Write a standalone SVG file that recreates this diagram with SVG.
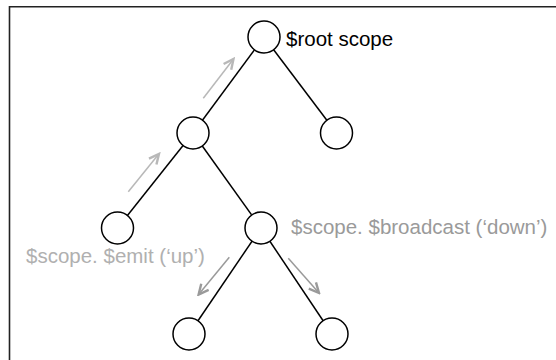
<svg xmlns="http://www.w3.org/2000/svg" width="556" height="360" viewBox="0 0 556 360">
<style>
.node{fill:#fff;stroke:#000;stroke-width:1.5}
.edge{stroke:#000;stroke-width:1.5;fill:none}
.emit{stroke:#b8b8b8;stroke-width:1.5;fill:none}
.bc{stroke:#9a9a9a;stroke-width:1.5;fill:none}
.t{font-family:"Liberation Sans",Arial,sans-serif;font-size:20.5px}
</style>
<defs>
<marker id="ahLight" markerUnits="userSpaceOnUse" markerWidth="14" markerHeight="14" viewBox="-12 -7 14 14" refX="0" refY="0" orient="auto">
<path d="M-10,-4.8 L0,0 L-10,4.8" fill="none" stroke="#b8b8b8" stroke-width="2.4" stroke-linejoin="miter"/>
</marker>
<marker id="ahDark" markerUnits="userSpaceOnUse" markerWidth="14" markerHeight="14" viewBox="-12 -7 14 14" refX="0" refY="0" orient="auto">
<path d="M-10,-4.8 L0,0 L-10,4.8" fill="none" stroke="#9a9a9a" stroke-width="2.4" stroke-linejoin="miter"/>
</marker>
</defs>
<rect width="556" height="360" fill="#fff"/>
<path d="M9.5,360 V6.8 H556" fill="none" stroke="#222" stroke-width="1.6"/>
<g id="connectors">
<line class="edge" x1="264" y1="37" x2="193" y2="133"/>
<line class="edge" x1="264" y1="37" x2="336.5" y2="133"/>
<line class="edge" x1="193" y1="133" x2="117.5" y2="228"/>
<line class="edge" x1="193" y1="133" x2="261" y2="228"/>
<line class="edge" x1="261" y1="228" x2="189" y2="334"/>
<line class="edge" x1="261" y1="228" x2="332" y2="334"/>
<line class="emit" x1="203.3" y1="98.3" x2="233.5" y2="59" marker-end="url(#ahLight)"/>
<line class="emit" x1="128.3" y1="191.7" x2="159" y2="153.8" marker-end="url(#ahLight)"/>
<line class="bc" x1="229.3" y1="257.3" x2="198.6" y2="294.6" marker-end="url(#ahDark)"/>
<line class="bc" x1="288.3" y1="258.3" x2="319" y2="293" marker-end="url(#ahDark)"/>
</g>
<g id="root"><circle class="node" cx="264" cy="37" r="16"/><text class="t" x="286" y="46" fill="#000">$root scope</text></g>
<g id="n1"><circle class="node" cx="193" cy="133" r="16"/></g>
<g id="n2"><circle class="node" cx="336.5" cy="133" r="16"/></g>
<g id="n3"><circle class="node" cx="117.5" cy="228" r="16"/></g>
<g id="n4"><circle class="node" cx="261" cy="228" r="16"/><text class="t" x="291" y="234" fill="#9a9a9a">$scope. $broadcast (‘down’)</text></g>
<g id="n5"><circle class="node" cx="189" cy="334" r="16"/></g>
<g id="n6"><circle class="node" cx="332" cy="334" r="16"/></g>
<g id="emitLabel"><text class="t" x="26" y="263" fill="#b0b0b0">$scope. $emit (‘up’)</text></g>
</svg>
